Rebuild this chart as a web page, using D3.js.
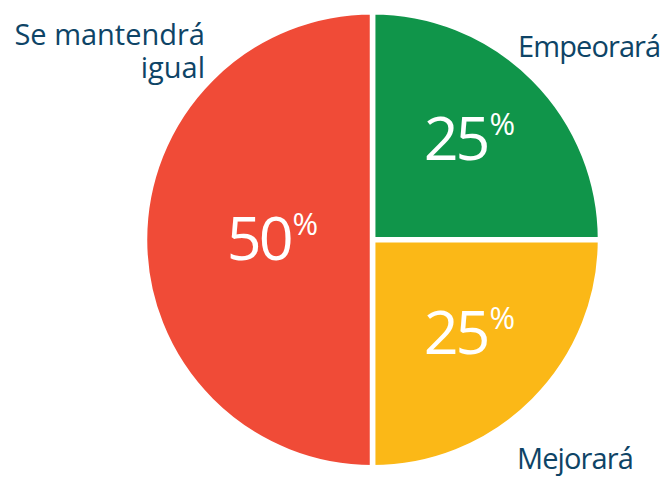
<!DOCTYPE html>
<html>
<head>
<meta charset="utf-8">
<script src="https://cdn.jsdelivr.net/npm/d3@7"></script>
<style>
  body { margin: 0; background: #fff; }
  svg { display: block; }
  text { font-family: "Open Sans", sans-serif; }
</style>
</head>
<body>
<svg width="665" height="477"></svg>
<script>
let categories = ["Empeorará", "Mejorará", "Se mantendrá igual"]
let shares = [25, 25, 50]
let colors = ["#10954a", "#fbb817", "#f04b37"]

let data = categories.map((c, i) => ({ name: c, value: shares[i], color: colors[i] }))

let svg = d3.select("svg")
let cx = 372.5, cy = 239.7, radius = 228

let g = svg.append("g").attr("transform", `translate(${cx},${cy})`)

let pie = d3.pie().value(d => d.value).sort(null)
let arc = d3.arc().innerRadius(0).outerRadius(radius)

let arcs = pie(data)

g.selectAll("path")
  .data(arcs).enter()
  .append("path")
  .attr("d", arc)
  .attr("fill", d => d.data.color)
  .attr("stroke", "#fff")
  .attr("stroke-width", 5.5)
  .attr("stroke-linejoin", "miter")

// percent labels inside slices
function label_pos(d) {
  let r = d.data.value >= 50 ? 100 : 137
  return d3.arc().innerRadius(r).outerRadius(r).centroid(d)
}

let pct = g.selectAll("text.pct")
  .data(arcs).enter()
  .append("text")
  .attr("class", "pct")
  .attr("text-anchor", "middle")
  .attr("fill", "#fff")
  .attr("transform", d => {
    let p = label_pos(d)
    return `translate(${p[0]},${p[1] + (d.data.value >= 50 ? 20 : 17)})`
  })

pct.append("tspan")
  .attr("font-size", 61)
  .attr("letter-spacing", -3)
  .text(d => d.data.value)
pct.append("tspan")
  .attr("font-size", 31)
  .attr("dx", 2)
  .attr("dy", -25)
  .text("%")

// category labels outside
let label_color = "#0e4466"

svg.append("text")
  .attr("x", 518).attr("y", 57)
  .attr("fill", label_color).attr("font-size", 29)
  .attr("letter-spacing", -0.9)
  .text(categories[0])
svg.append("text")
  .attr("x", 517).attr("y", 469)
  .attr("fill", label_color).attr("font-size", 29)
  .attr("letter-spacing", -0.9)
  .text(categories[1])

let left = svg.append("text")
  .attr("text-anchor", "end")
  .attr("fill", label_color).attr("font-size", 29)
left.append("tspan").attr("x", 205).attr("y", 45).text("Se mantendrá")
left.append("tspan").attr("x", 205).attr("y", 78).text("igual")
</script>
</body>
</html>
